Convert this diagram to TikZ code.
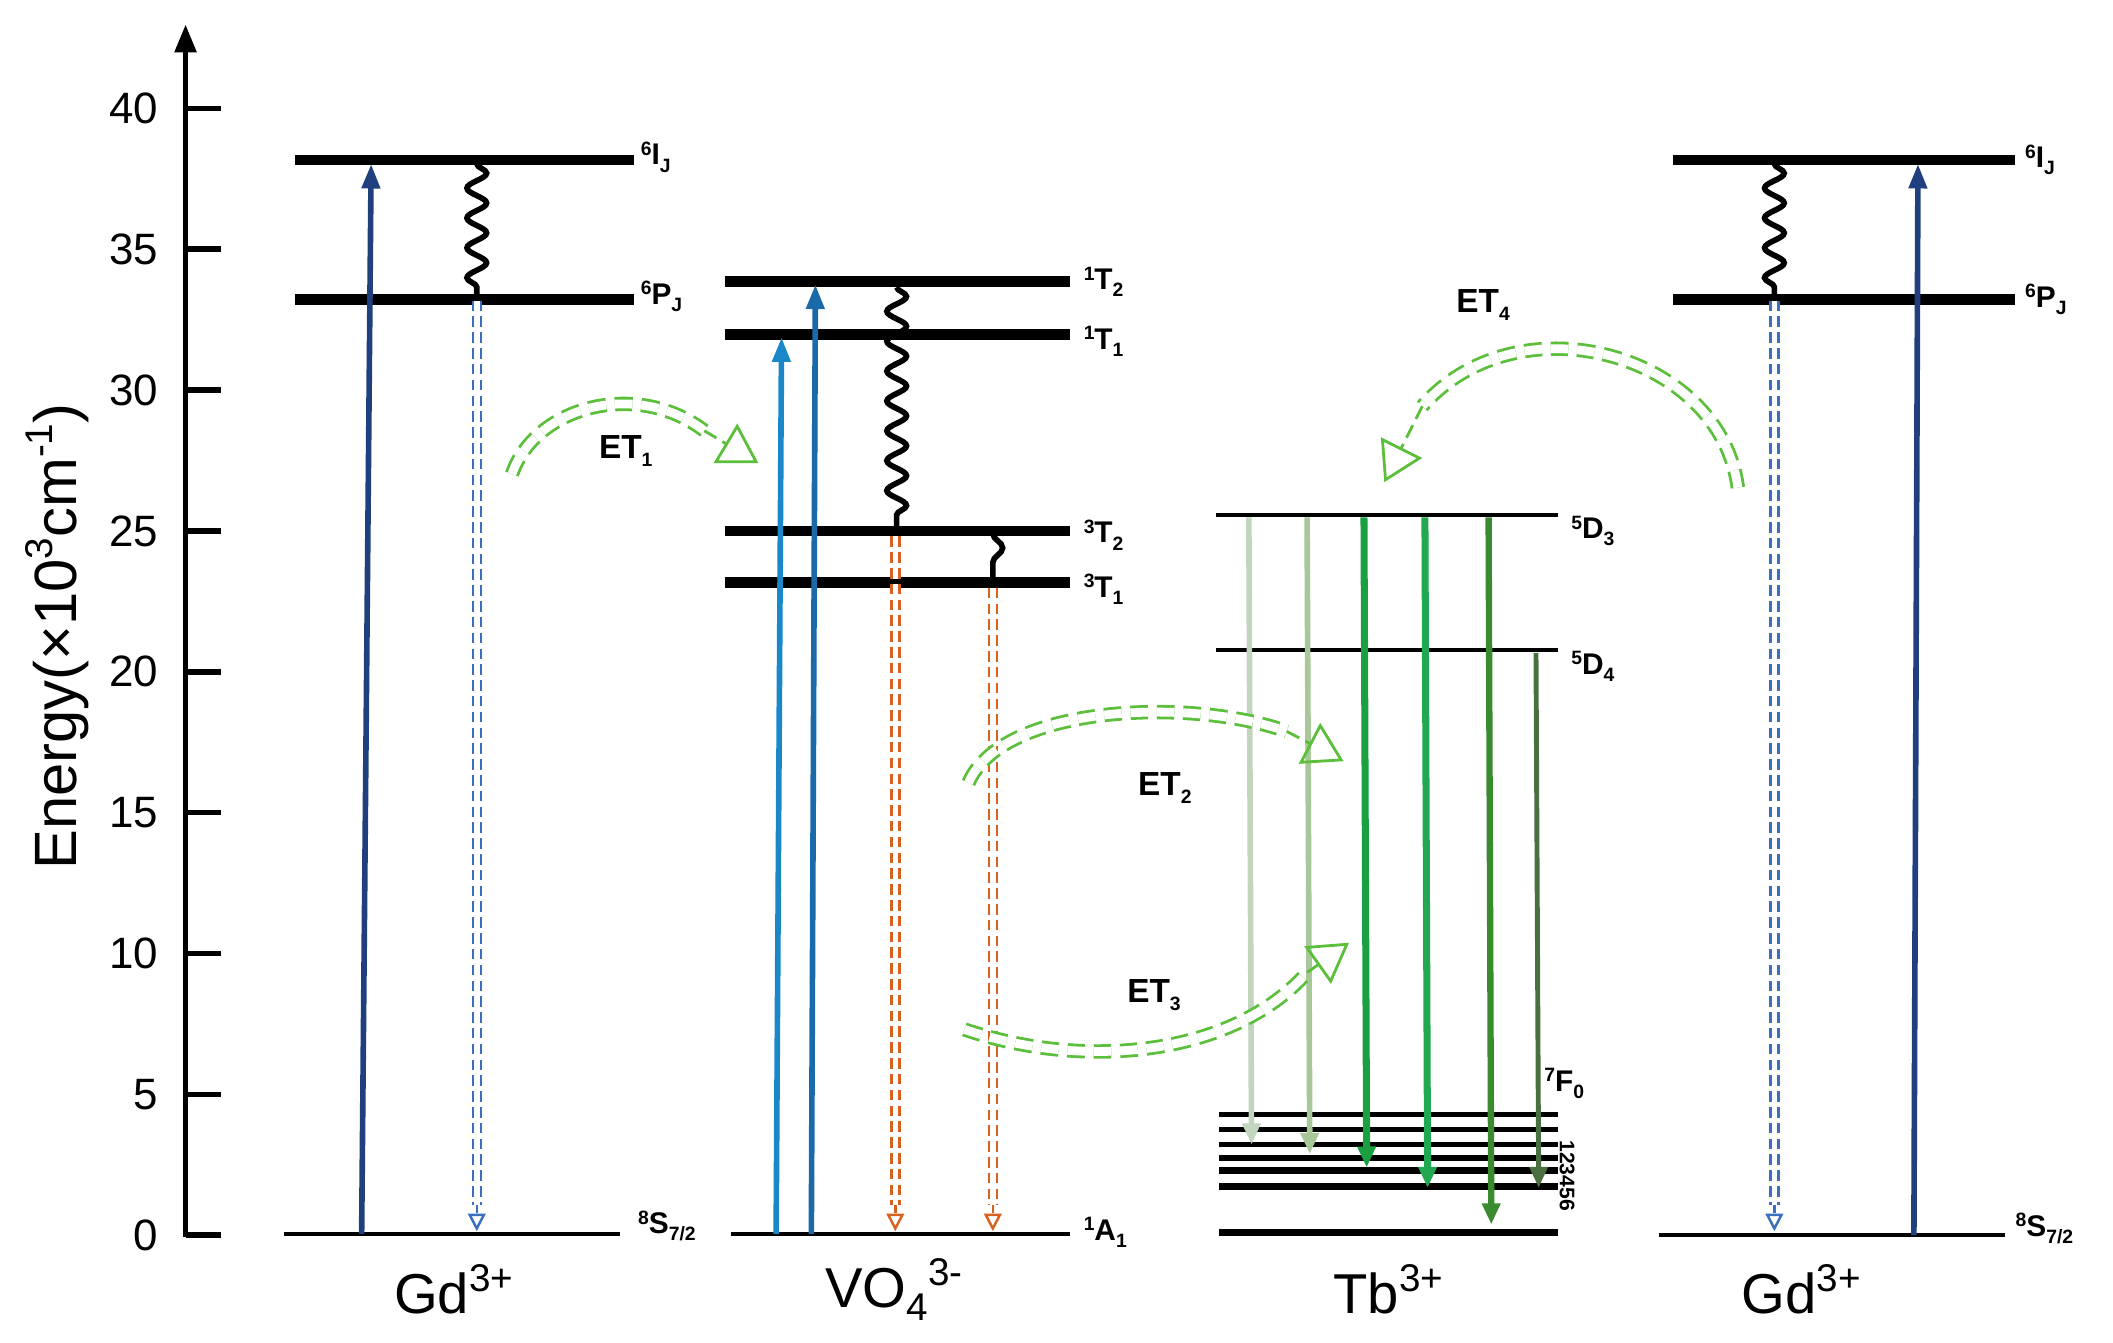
\documentclass[tikz,border=0pt]{standalone}
\usepackage{fontspec}
\setmainfont{Liberation Sans}
\usetikzlibrary{arrows.meta,decorations.pathmorphing}
\newcommand\myup[1]{\raisebox{0.6ex}{\fontsize{5.5}{6}\selectfont #1}}
\newcommand\mydn[1]{\raisebox{-0.45ex}{\fontsize{5.5}{6}\selectfont #1}}
\newcommand\bigup[1]{\raisebox{0.75ex}{\fontsize{11}{12}\selectfont #1}}
\newcommand\bigdn[1]{\raisebox{-0.45ex}{\fontsize{11}{12}\selectfont #1}}
\definecolor{navy}{HTML}{1F3F7F}
\definecolor{lblue}{HTML}{1A88C8}
\definecolor{mblue}{HTML}{1A6AAA}
\definecolor{dblue}{HTML}{3A6FC0}
\definecolor{orng}{HTML}{D86020}
\definecolor{etg}{HTML}{5CBF3C}
\begin{document}
\begin{tikzpicture}[x=0.013545cm,y=-0.013545cm,
  thick level/.style={line width=3pt},
  thin level/.style={line width=1.1pt},
  lab/.style={font=\fontsize{8.5}{9}\selectfont\bfseries,anchor=west,inner sep=1pt},
  tick/.style={font=\fontsize{12.5}{14}\selectfont,anchor=east},
  ion/.style={font=\fontsize{16}{18}\selectfont},
  etl/.style={font=\fontsize{9.5}{10}\selectfont\bfseries},
  up/.style={line width=1.6pt,-{Triangle[length=7pt,width=5pt]}},
  wav/.style={line width=1.6pt,decorate,decoration={snake,amplitude=2.8pt,segment length=8.5pt}},
  hollow/.style={dashed,dash pattern=on 3pt off 1.5pt,line width=0.7pt,double=white,double distance=1.6pt},
  hhead/.style={dashed,dash pattern=on 2pt off 1pt,line width=0.7pt,-{Triangle[open,length=5pt,width=5pt]}},
  et/.style={etg,dashed,dash pattern=on 5pt off 2.5pt,line width=0.8pt,double=white,double distance=2.5pt},
  ethead/.style={etg,dashed,dash pattern=on 4pt off 2pt,line width=0.8pt,-{Triangle[open,length=11pt,width=13pt]}}]
\useasboundingbox (0,0) rectangle (1560,991.5);
% axis
\coordinate (ax0) at (137,913); \coordinate (axt) at (137,18);
\draw[line width=1.6pt,-{Triangle[length=8pt,width=6pt]}] (ax0) -- (axt);
\foreach \k in {0,...,8}{
  \draw[line width=1.6pt] (137,912-\k*104) -- (163,912-\k*104);
  \node[tick] (t\k) at (126,912-\k*104) {\the\numexpr\k*5\relax};
}
\node[rotate=90,font=\fontsize{17}{18}\selectfont] (elab) at (42,470) {Energy(×10\bigup{3}cm\bigup{-1})};
% ---- Gd left
\draw[thick level] (218,118) -- (468,118); \node[lab] (gI) at (470,116) {\myup{6}I\mydn{J}};
\draw[thick level] (218,221) -- (468,221); \node[lab] (gP) at (470,219) {\myup{6}P\mydn{J}};
\draw[thin level] (210,911) -- (458,911); \node[lab] (gS) at (468,905) {\myup{8}S\mydn{7/2}};
\coordinate (ga0) at (267,911); \coordinate (ga1) at (274,121);
\draw[up,navy] (ga0) -- (ga1);
\coordinate (gw0) at (352,121); \coordinate (gw1) at (352,219);
\draw[wav] (gw0) -- (gw1);
\coordinate (gd0) at (352,222); \coordinate (gd1) at (352,890); \coordinate (gd2) at (352,909);
\draw[hollow,dblue] (gd0) -- (gd1); \draw[hhead,dblue] (gd1) -- (gd2);
\node[ion] (gdL) at (335,952) {Gd\bigup{3+}};
% ---- VO4
\draw[thick level] (535,208) -- (790,208); \node[lab] (v1) at (797,208) {\myup{1}T\mydn{2}};
\draw[thick level] (535,247) -- (790,247); \node[lab] (v2) at (797,252) {\myup{1}T\mydn{1}};
\draw[thick level] (535,392) -- (790,392); \node[lab] (v3) at (797,395) {\myup{3}T\mydn{2}};
\draw[thick level] (535,430) -- (790,430); \node[lab] (v4) at (797,435) {\myup{3}T\mydn{1}};
\draw[thin level] (540,911) -- (790,911); \node[lab] (v5) at (797,910) {\myup{1}A\mydn{1}};
\coordinate (va0) at (573,911); \coordinate (va1) at (577,249);
\draw[up,lblue] (va0) -- (va1);
\coordinate (vb0) at (599,911); \coordinate (vb1) at (602,210);
\draw[up,mblue] (vb0) -- (vb1);
\coordinate (vw0) at (662,212); \coordinate (vw1) at (662,390);
\draw[wav] (vw0) -- (vw1);
\coordinate (vx0) at (733,394); \coordinate (vx1) at (733,429);
\draw[wav,decoration={snake,amplitude=2.8pt,segment length=13pt}] (vx0) -- (vx1);
\coordinate (vd0) at (661,396); \coordinate (vd1) at (661,890); \coordinate (vd2) at (661,909);
\draw[hollow,orng] (vd0) -- (vd1); \draw[hhead,orng] (vd1) -- (vd2);
\coordinate (ve0) at (733,434); \coordinate (ve1) at (733,890); \coordinate (ve2) at (733,909);
\draw[hollow,orng] (ve0) -- (ve1); \draw[hhead,orng] (ve1) -- (ve2);
\node[ion] (vL) at (660,952) {VO\bigdn{4}\bigup{3-}};
% ---- Tb
\draw[line width=1.2pt] (898,380) -- (1150,380); \node[lab] (tD3) at (1157,392) {\myup{5}D\mydn{3}};
\draw[line width=1.2pt] (898,480) -- (1150,480); \node[lab] (tD4) at (1157,492) {\myup{5}D\mydn{4}};
\foreach \y/\w in {823/1.5,834/1.6,845/1.6,855/1.6,864/2.0,876/2.0,910/2.0}
  \draw[line width=\w pt] (900,\y) -- (1150,\y);
\node[lab] (tF) at (1137,800) {\myup{7}F\mydn{0}};
\node[rotate=-90,font=\fontsize{6}{6}\selectfont\bfseries] (tFd) at (1157,868) {123456};
\foreach \x/\e/\c/\w [count=\i] in {922/845/C2D6BE/1.6,965/852/A8C89A/1.6,1007/862/1AA040/2.0,1052/877/22A850/2.0,1099/904/3A8A30/1.8}{
  \definecolor{tc}{HTML}{\c}
  \coordinate (ts\i) at (\x,382); \coordinate (te\i) at (\x+2,\e);
  \draw[tc,line width=\w pt,-{Triangle[length=6pt,width=5pt]}] (ts\i) -- (te\i);
}
\definecolor{tc6}{HTML}{4A7040}
\coordinate (ts6) at (1134,482); \coordinate (te6) at (1136,877);
\draw[tc6,line width=1.4pt,-{Triangle[length=6pt,width=5pt]}] (ts6) -- (te6);
\node[ion] (tbL) at (1025,952) {Tb\bigup{3+}};
% ---- Gd right
\draw[thick level] (1235,118) -- (1488,118); \node[lab] (rI) at (1492,118) {\myup{6}I\mydn{J}};
\draw[thick level] (1235,221) -- (1488,221); \node[lab] (rP) at (1492,221) {\myup{6}P\mydn{J}};
\draw[thin level] (1225,912) -- (1480,912); \node[lab] (rS) at (1485,907) {\myup{8}S\mydn{7/2}};
\coordinate (ra0) at (1413,912); \coordinate (ra1) at (1416,121);
\draw[up,navy] (ra0) -- (ra1);
\coordinate (rw0) at (1310,121); \coordinate (rw1) at (1310,219);
\draw[wav] (rw0) -- (rw1);
\coordinate (rd0) at (1310,222); \coordinate (rd1) at (1310,890); \coordinate (rd2) at (1310,909);
\draw[hollow,dblue] (rd0) -- (rd1); \draw[hhead,dblue] (rd1) -- (rd2);
\node[ion] (rL) at (1330,952) {Gd\bigup{3+}};
% ---- ET arrows
\coordinate (e1a) at (378,350); \coordinate (e1b) at (520,318); \coordinate (e1c) at (560,342);
\draw[et] (e1a) .. controls (395,300) and (470,280) .. (e1b); \draw[ethead] (e1b) -- (e1c);
\node[etl] (et1) at (462,333) {ET\mydn{1}};
\coordinate (e2a) at (715,578); \coordinate (e2b) at (950,540); \coordinate (e2c) at (992,562);
\draw[et] (e2a) .. controls (740,520) and (880,515) .. (e2b); \draw[ethead] (e2b) -- (e2c);
\node[etl] (et2) at (860,582) {ET\mydn{2}};
\coordinate (e3a) at (712,760); \coordinate (e3b) at (965,718); \coordinate (e3c) at (996,696);
\draw[et] (e3a) .. controls (800,790) and (910,780) .. (e3b); \draw[ethead] (e3b) -- (e3c);
\node[etl] (et3) at (852,735) {ET\mydn{3}};
\coordinate (e4a) at (1283,360); \coordinate (e4b) at (1050,300); \coordinate (e4c) at (1022,356);
\draw[et] (e4a) .. controls (1270,260) and (1120,220) .. (e4b); \draw[ethead] (e4b) -- (e4c);
\node[etl] (et4) at (1095,225) {ET\mydn{4}};
\end{tikzpicture}
\end{document}
